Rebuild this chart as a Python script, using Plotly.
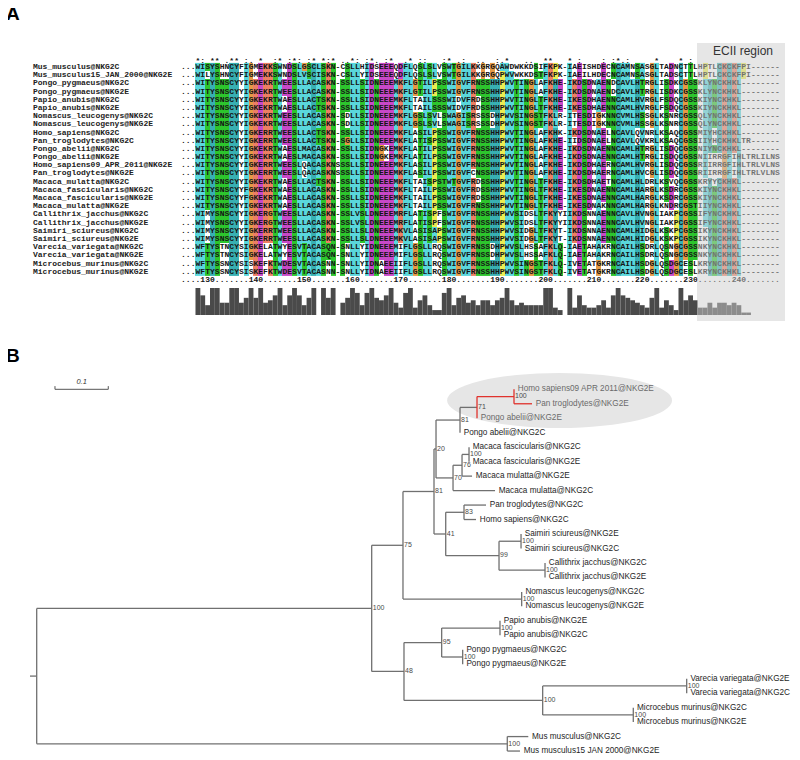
import plotly.graph_objects as go
from collections import Counter

# ---------------- Panel A data ----------------
seq_names = [
    "Mus_musculus@NKG2C", "Mus_musculus15_JAN_2000@NKG2E",
    "Pongo_pygmaeus@NKG2C", "Pongo_pygmaeus@NKG2E",
    "Papio_anubis@NKG2C", "Papio_anubis@NKG2E",
    "Nomascus_leucogenys@NKG2C", "Nomascus_leucogenys@NKG2E",
    "Homo_sapiens@NKG2C", "Pan_troglodytes@NKG2C",
    "Pongo_abelii@NKG2C", "Pongo_abelii@NKG2E",
    "Homo_sapiens09_APR_2011@NKG2E", "Pan_troglodytes@NKG2E",
    "Macaca_mulatta@NKG2C", "Macaca_fascicularis@NKG2C",
    "Macaca_fascicularis@NKG2E", "Macaca_mulatta@NKG2E",
    "Callithrix_jacchus@NKG2C", "Callithrix_jacchus@NKG2E",
    "Saimiri_sciureus@NKG2C", "Saimiri_sciureus@NKG2E",
    "Varecia_variegata@NKG2C", "Varecia_variegata@NKG2E",
    "Microcebus_murinus@NKG2C", "Microcebus_murinus@NKG2E",
]

sequences = [
    "..." "WISYSHNCYFIGMEKKSWNDSLGSCLSKN" "-" "CSLLHIDSEEEQ" "DFLQSLSLVSWTGILKKGRGQAWDWKKDSIFKPK" "-" "IAEISHDECNCAMNSASGLTADNCTTLHPTLCKCKFPI------",
    "..." "WILYSHNCYFIGMEKKSWNDSLVSCISKN" "-" "CSLLYIDSEEEQ" "DFLQSLSLVSWTGILKKGRGQPWVWKKDSTFKPK" "-" "IAEILHDECNCAMNSASGLTADSCTTLHPTLCKCKFPI------",
    "..." "WITYSNSCYYIGKEKRTWEESLLACASKN" "-" "SSLLSIDNEEEM" "KFLGTILPSSWIGVFRNSSHHPWVTINGLAFKHE" "-" "IKDSDNAENDCAVLHTRGLISDKCGSSKLYNCKHKL--------",
    "..." "WITYSNSCYYIGKEKRTWEESLLACASKN" "-" "SSLLSIDNEEEM" "KFLGTILPSSWIGVFRNSSHHPWVTINGLAFKHE" "-" "IKDSDNAENDCAVLHTRGLISDKCGSSKLYNCKHKL--------",
    "..." "WITYSNSCYYIGKEKRTWAESLLACTSKN" "-" "SSLLSIDNEEEM" "KFLTAILSSSWIDVFRDSSHHPWVTINGLTFKHE" "-" "IKESDHAENNCAMLHVRGLFSDQCGSSKIYNCKHKL--------",
    "..." "WITYSNSCYYIGKEKRTWAESLLACTSKN" "-" "SSLLSIDNEEEM" "KFLTAILSSSWIDVFRDSSHHPWVTINGLTFKHE" "-" "IKESDHAENNCAMLHVRGLFSDQCGSSKIYNCKHKL--------",
    "..." "WITYSNSCYYIGKEKRTWEESLLACASKN" "-" "SDLLSIDNEEEM" "KFLGSLSVLSWAGISRSSSDHPWVSINGSTFKLR" "-" "ITESDIGKNNCVMLHSSGLKSNRCGSSQLYNCKHKL--------",
    "..." "WITYSNSCYYIGKEKRTWEESLLACASKN" "-" "SDLLSIDNEEEM" "KFLGSLSVLSWAGISRSSSDHPWVSINGSTFKLR" "-" "ITESDIGKNNCVMLHSSGLKSNRCGSSQLYNCKHKL--------",
    "..." "WITYSNSCYYIGKERRTWEESLLACTSKN" "-" "SSLLSIDNEEEM" "KFLASILPSSWIGVFRNSSHHPWVTINGLAFKHK" "-" "IKDSDNAELNCAVLQVNRLKSAQCGSSMIYHCKHKL--------",
    "..." "WITYSNSCYYIGKERRTWEESLLACTSKN" "-" "SGLLSIDNEEEM" "KFLATISPSSWIGVFRNSSHHPWVTINGLAFKHE" "-" "IIDSDNAELNCAVLQVKRLKSAQCGSSIIYHCKHKLTR------",
    "..." "WITYSNSCYYIGKEKRTWAESLMACASKN" "-" "SSLLSIDNGKEM" "KFLATILPSSWIGVFRNSSHHPWVTINGLAFKHE" "-" "IKDSDNAENNCAMLHTRGLISDQCGSSNIYNCKHKL--------",
    "..." "WITYSNSCYYIGKEKRTWAESLMACASKN" "-" "SSLLSIDNGKEM" "KFLATILPSSWIGVFRNSSHHPWVTINGLAFKHE" "-" "IKDSDNAENNCAMLHTRGLISDQCGSSNIIRRGFIHLTRLILNS",
    "..." "WITYSNSCYYIGKERRTWEESLQACASKN" "S" "SSLLSIDNEEEM" "KFLASILPSSWIGVFRNSSHHPWVTINGLAFKHE" "-" "IKDSDHAERNCAMLHVRGLISDQCGSSRIIRRGFIHLTRLVLNS",
    "..." "WITYSNSCYYIGKERRTWEESLQACASKN" "S" "SSLLSIDNEEEM" "KFLASILPSSWIGVFCNSSHHPWVTINGLAFKHE" "-" "IKDSDHAERNCAMLHVCGLISDQCGSSRIIRRGFIHLTRLVLNS",
    "..." "WITYSNSCYYIGKEKRTWAESLLACTSKN" "-" "SSLLSIDNEEEM" "KFLTAISPSTWTGVFRDSSHHPWVTINGLTFKHE" "-" "IKDSDHAETNCAMLHLDRLKSVQCGSSKRYYCKHKL--------",
    "..." "WITYSNSCYYFGKEKRTWAESLLACASKN" "-" "SSLLSIDNEEEM" "KFLTAILPSSWIGVFRDSSHHPWVTINGLTFKHE" "-" "IKESDNAENNCAMLHARGLKSDRCGSSKIYNCKHKL--------",
    "..." "WITYSNSCYYFGKEKRTWAESLLACASKN" "-" "SSLLSIDNEEEM" "KFLTAILPSSWIGVFRDSSHHPWVTINGLTFKHE" "-" "IKESDNAENNCAMLHARGLKSDRCGSSKIYNCKHKL--------",
    "..." "WITYSNSCYYIGKEKRTWAESLLACASKN" "-" "SSLLSIDNEEEM" "KFLTAILPSSWIGVFRNSSHHPWVTINGLTFKHE" "-" "IKESDNAKNNCAMLHARGLKNDRCGSTIIYNCKHKL--------",
    "..." "WIMYSNSCYYIGKERGTWEESLLACASKN" "-" "SSLVSLDNEEEM" "RFLATISPFSWIGVFRNSSHHPWVSIDSLTFKYY" "I" "IKDSNNAENNCAVLHVNGLIAKPCGSSIFYNCKHKL--------",
    "..." "WIMYSNSCYYIGKERGTWEESLLACASKN" "-" "SSLVSLDNEEEM" "RFLATISPFSWIGVFRNSSHHPWVSIDSLTFKYY" "I" "IKDSNNAENNCAVLHVNGLIAKPCGSSIFYNCKHKL--------",
    "..." "WIMYSNSCYYIGKERRTWEESLLACASKN" "-" "SSLLSLDNEEEM" "KVLASISAPSWIGVFRNSSHHPWVSIDGLTFKYT" "-" "IKDSNNAENNCAMLHIDGLKSKPCGSSIKYNCKHKL--------",
    "..." "WIMYSNSCYYIGKERRTWEESLLACASKN" "-" "SSLLSLDNEEEM" "KVLASISAPSWIGVFRNSSHHPWVSIDGLTFKYT" "-" "IKDSNNAENNCAMLHIDGLKSKPCGSSIKYNCKHKL--------",
    "..." "WFTYSTNCYSIGKELATWYESVTACASQN" "-" "SNLLYIDNEEEM" "IFLGSLLRQSWIGVFRNSSDHPWVSLHSSAFKLQ" "-" "IAETAHAKRNCAILHSDRLQSNGCGSSNKYNCKHKL--------",
    "..." "WFTYSTNCYSIGKELATWYESVTACASQN" "-" "SNLLYIDNEEEM" "IFLGSLLRQSWIGVFRNSSDHPWVSLHSSAFKLQ" "-" "IAETAHAKRNCAILHSDRLQSNGCGSSNKYNCKHKL--------",
    "..." "WFTYSSNCYSISKEFKTWDESVTACASNN" "-" "SNLLYIDNAEEI" "IFLGSLLRQSWIGVFRNSSHHPWVSINGSTFKLQ" "-" "IVETATGKRNCAILHSDGLQSDGCESLKRYNCKHKL--------",
    "..." "WFTYSSNCYSISKEFKTWDESVTACASNN" "-" "SNLLYIDNAEEI" "IFLGSLLRQSWIGVFRNSSHHPWVSINGSTFKLQ" "-" "IVETATGKRNCAILHSDGLQSDGCESLKRYNCKHKL--------",
]

ruler = "....130.......140.......150.......160.......170.......180.......190.......200.......210.......220.......230.......240......."

conservation_scores = [
    0, 0, 0,
    11, 8, 4, 11, 11, 5, 5, 11, 11, 5, 7, 11, 7, 11, 5, 6, 8, 11, 4, 8, 11, 8, 4, 7, 11, 0, 11, 7, 11,
    0,
    5, 7, 11, 9, 4, 9, 11, 7, 6, 8, 11, 5,
    3, 9, 11, 3, 6, 8, 4, 2, 2, 9, 11, 4, 7, 8, 5, 6, 4, 6, 6, 4, 6, 7, 11, 6, 4, 5, 4, 4, 4, 4, 11, 11, 3, 2,
    0,
    11, 3, 8, 4, 3, 3, 4, 6, 3, 8, 11, 8, 7, 6, 5, 4, 3, 7, 11, 3, 6, 4, 2, 11, 6, 8, 6, 3, 3, 5,
    3, 5, 5, 4, 5, 4, 1, 1, 0, 0, 0, 0, 0, 0,
]

ecii_label = "ECII region"

# ---------------- Panel B data ----------------
tree_newick = (
    "((((((((Homo_sapiens09_APR_2011@NKG2E:0,Pan_troglodytes@NKG2E:0.0338)100:0.0694,"
    "Pongo_abelii@NKG2E:0)71:0.0319,Pongo_abelii@NKG2C:0)81:0.0450,"
    "(((Macaca_fascicularis@NKG2C:0,Macaca_fascicularis@NKG2E:0)100:0.0131,"
    "Macaca_mulatta@NKG2E:0.0188)76:0.0169,Macaca_mulatta@NKG2C:0.0788)70:0.0319)20:0.0038,"
    "((Pan_troglodytes@NKG2C:0.0413,Homo_sapiens@NKG2C:0.0225)83:0.0343,"
    "((Saimiri_sciureus@NKG2E:0,Saimiri_sciureus@NKG2C:0)100:0.0413,"
    "(Callithrix_jacchus@NKG2C:0,Callithrix_jacchus@NKG2E:0)100:0.0863)99:0.1000)41:0.0220)81:0.0582,"
    "(Nomascus_leucogenys@NKG2C:0,Nomascus_leucogenys@NKG2E:0)100:0.2227)75:0.0587,"
    "(((Papio_anubis@NKG2E:0,Papio_anubis@NKG2C:0)100:0.1094,"
    "(Pongo_pygmaeus@NKG2C:0,Pongo_pygmaeus@NKG2E:0)100:0.0394)95:0.0707,"
    "((Varecia_variegata@NKG2E:0,Varecia_variegata@NKG2C:0)100:0.2702,"
    "(Microcebus_murinus@NKG2C:0,Microcebus_murinus@NKG2E:0)100:0.1700)100:0.2602)48:0.0606)100:0.6285,"
    "(Mus_musculus@NKG2C:0.0394,Mus_musculus15_JAN_2000@NKG2E:0.0238)100:0.8829);"
)
highlight_leaves = ["Homo_sapiens09_APR_2011@NKG2E", "Pan_troglodytes@NKG2E", "Pongo_abelii@NKG2E"]
scale_bar_length = 0.1

# ---------------- page geometry (browser body has an 8px margin at left/top) ----------------
OFF = 8
W, H = 800 - OFF, 760 - OFF


def px(p):  # page x pixel -> paper fraction
    return (p - OFF) / W


def py(p):  # page y pixel -> paper fraction
    return 1 - (p - OFF) / H


# ---------------- helpers ----------------
NCOL = 124
sequences = [s.ljust(NCOL, "-")[:NCOL] for s in sequences]
ruler = ruler.ljust(NCOL, ".")[:NCOL]
conservation_scores = (conservation_scores + [0] * NCOL)[:NCOL]
nrow = len(sequences)

COLORS = {1: "#5ad7dc", 2: "#ec7f63", 3: "#c848c8", 4: "#2dc52d",
          5: "#e69a45", 6: "#ecec52", 7: "#38b0b3"}


def colour_class(ch, f):
    hyd = f("WLVIMAFCHP")
    if ch in "AILMFWV":
        return 1 if hyd > 0.6 else 0
    if ch == "C":
        return 7 if (hyd > 0.6 or f("C") > 0.85) else 0
    if ch in "KR":
        return 2 if (f("KR") > 0.6 or f("KRQ") > 0.8) else 0
    if ch == "E":
        return 3 if (f("KR") > 0.6 or f("QE") > 0.5 or f("ED") > 0.5) else 0
    if ch == "D":
        return 3 if (f("KR") > 0.6 or f("KRQ") > 0.85 or f("ED") > 0.5) else 0
    if ch == "N":
        return 4 if (f("N") > 0.5 or f("NY") > 0.85) else 0
    if ch == "Q":
        return 4 if (f("KR") > 0.6 or f("QE") > 0.5 or f("QEKR") > 0.85) else 0
    if ch in "ST":
        return 4 if (hyd > 0.6 or f("TS") > 0.5) else 0
    if ch == "G":
        return 5
    if ch == "P":
        return 6
    if ch in "HY":
        return 7 if (hyd > 0.6 or f("WYACPQFHILMV") > 0.85) else 0
    return 0


STRONG = ["STA", "NEQK", "NHQK", "NDEQ", "QHRK", "MILV", "MILF", "HY", "FYW"]
WEAK = ["CSA", "ATV", "SAG", "STNK", "STPA", "SGND", "SNDEQK", "NDEQHK", "NEQHRK", "FVLIM", "HFY"]

z = [[None] * NCOL for _ in range(nrow)]
cons_symbols = []
for k in range(NCOL):
    col = [s[k] for s in sequences]
    cnt = Counter(col)
    f = lambda grp, cnt=cnt: sum(cnt[c] for c in grp) / nrow
    for i, ch in enumerate(col):
        c = colour_class(ch, f)
        z[i][k] = c if c else None
    present = set(col)
    if "-" in present or "." in present:
        cons_symbols.append(" ")
    elif len(present) == 1:
        cons_symbols.append("*")
    elif any(present <= set(g) for g in STRONG):
        cons_symbols.append(":")
    elif any(present <= set(g) for g in WEAK):
        cons_symbols.append(".")
    else:
        cons_symbols.append(" ")

tx, ty, tt = [], [], []
for i, s in enumerate(sequences):
    for k, ch in enumerate(s):
        tx.append(k); ty.append(i); tt.append(ch)
for k, ch in enumerate(ruler):
    tx.append(k); ty.append(nrow); tt.append(ch)
for k, ch in enumerate(cons_symbols):
    if ch != " ":
        tx.append(k); ty.append(-0.75); tt.append(ch)

classes = sorted(COLORS)
cscale = []
for j, c in enumerate(classes):
    cscale.append([j / len(classes), COLORS[c]])
    cscale.append([(j + 1) / len(classes), COLORS[c]])

MONO = "Liberation Mono, DejaVu Sans Mono, monospace"
SANS = "Liberation Sans, Arial, Helvetica, sans-serif"

fig = go.Figure()
fig.add_trace(go.Heatmap(z=z, x=list(range(NCOL)), y=list(range(nrow)), colorscale=cscale,
                         zmin=0.5, zmax=len(classes) + 0.5, showscale=False, hoverinfo="skip",
                         xaxis="x", yaxis="y"))
fig.add_trace(go.Scatter(x=tx, y=ty, text=tt, mode="text", hoverinfo="skip", cliponaxis=False,
                         textfont=dict(family=MONO, size=8, color="#151515", weight="bold"),
                         xaxis="x", yaxis="y"))
fig.add_trace(go.Scatter(x=[0] * nrow, y=list(range(nrow)), text=seq_names, mode="text",
                         textposition="middle right", hoverinfo="skip", cliponaxis=False,
                         textfont=dict(family=MONO, size=8, color="#222222", weight="bold"),
                         xaxis="x2", yaxis="y"))
fig.add_trace(go.Bar(x=list(range(NCOL)), y=conservation_scores, width=1.0,
                     marker=dict(color="#4a4a4a", line=dict(width=0)), hoverinfo="skip",
                     xaxis="x3", yaxis="y3"))

# ---------------- tree ----------------
def parse_newick(s):
    s = s.strip()
    pos = [0]

    def node():
        n = {"children": [], "name": "", "length": 0.0}
        if s[pos[0]] == "(":
            pos[0] += 1
            while True:
                n["children"].append(node())
                if s[pos[0]] == ",":
                    pos[0] += 1
                    continue
                if s[pos[0]] == ")":
                    pos[0] += 1
                    break
        st = pos[0]
        while pos[0] < len(s) and s[pos[0]] not in ":,();":
            pos[0] += 1
        n["name"] = s[st:pos[0]]
        if pos[0] < len(s) and s[pos[0]] == ":":
            pos[0] += 1
            st = pos[0]
            while pos[0] < len(s) and s[pos[0]] not in ",();":
                pos[0] += 1
            n["length"] = float(s[st:pos[0]])
        return n
    return node()


root = parse_newick(tree_newick)
counter = [0]
hl = set(highlight_leaves)


def lay(n, x0, parent):
    n["x"] = x0 + n["length"]
    n["parent"] = parent
    if not n["children"]:
        n["y"] = counter[0]
        counter[0] += 1
        n["leaves"] = {n["name"]}
    else:
        n["leaves"] = set()
        for c in n["children"]:
            lay(c, n["x"], n)
            n["leaves"] |= c["leaves"]
        n["y"] = (n["children"][0]["y"] + n["children"][-1]["y"]) / 2
    n["hl"] = n["leaves"] <= hl


lay(root, 0.0, None)

nodes = []


def walk(n):
    nodes.append(n)
    for c in n["children"]:
        walk(c)


walk(root)

grey_x, grey_y, red_x, red_y = [], [], [], []


def seg(hlflag, xs, ys):
    if hlflag:
        red_x.extend(xs + [None]); red_y.extend(ys + [None])
    else:
        grey_x.extend(xs + [None]); grey_y.extend(ys + [None])


for n in nodes:
    p = n["parent"]
    if p is not None:
        seg(n["hl"] and p["hl"], [p["x"], n["x"]], [n["y"], n["y"]])
    else:
        seg(False, [n["x"] - 0.0126, n["x"]], [n["y"], n["y"]])
    if n["children"]:
        seg(n["hl"], [n["x"], n["x"]], [n["children"][0]["y"], n["children"][-1]["y"]])

fig.add_trace(go.Scatter(x=grey_x, y=grey_y, mode="lines", line=dict(color="#707070", width=1.3),
                         hoverinfo="skip", xaxis="x4", yaxis="y4"))
fig.add_trace(go.Scatter(x=red_x, y=red_y, mode="lines", line=dict(color="#e0322d", width=1.3),
                         hoverinfo="skip", xaxis="x4", yaxis="y4"))

leaves = [n for n in nodes if not n["children"]]
for group, col in [(False, "#1e1e1e"), (True, "#6a6a6a")]:
    sel = [n for n in leaves if (n["name"] in hl) == group]
    fig.add_trace(go.Scatter(x=[n["x"] + 0.0070 for n in sel], y=[n["y"] for n in sel],
                             text=[n["name"].replace("_", " ") for n in sel], mode="text",
                             textposition="middle right", hoverinfo="skip", cliponaxis=False,
                             textfont=dict(family=SANS, size=8.2, color=col),
                             xaxis="x4", yaxis="y4"))
internal = [n for n in nodes if n["children"] and n["name"]]
fig.add_trace(go.Scatter(x=[n["x"] + 0.002 for n in internal], y=[n["y"] for n in internal],
                         text=[n["name"] for n in internal], mode="text", textposition="middle right",
                         hoverinfo="skip", cliponaxis=False,
                         textfont=dict(family=SANS, size=7, color="#4a4a4a"),
                         xaxis="x4", yaxis="y4"))

# scale bar
sb0 = 0.0343
fig.add_trace(go.Scatter(x=[sb0, sb0, sb0 + scale_bar_length, sb0 + scale_bar_length],
                         y=[-0.22, 0, 0, -0.22], mode="lines",
                         line=dict(color="#555555", width=1), hoverinfo="skip",
                         xaxis="x4", yaxis="y4"))
fig.add_trace(go.Scatter(x=[sb0 + scale_bar_length / 2], y=[-0.5], text=[str(scale_bar_length)],
                         mode="text", hoverinfo="skip", cliponaxis=False,
                         textfont=dict(family=SANS, size=7.5, color="#333333", style="italic"),
                         xaxis="x4", yaxis="y4"))

# ---------------- layout ----------------
col_w = 4.83
x_left = 181
x_dom = [px(x_left), px(x_left + col_w * NCOL)]
row_h = 8.19
row0 = 67
y_top = row0 - row_h * 1.5
y_bot = row0 + row_h * (nrow + 0.5)

# tree axis: distance d -> page x = 36.7 + 533*d ; leaf i -> page y = 389.3 + 14.47*i
tx0, tsc = 36.7, 533.0
ty0, tsy = 389.3, 14.47
tree_xr = [(OFF - tx0) / tsc, (OFF + W - tx0) / tsc]
tree_ytop, tree_ybot = 360, OFF + H
tree_yr = [(tree_ybot - ty0) / tsy, (tree_ytop - ty0) / tsy]

shapes = [
    dict(type="circle", xref="x4", yref="y4", x0=0.770, x1=1.192, y0=-1.13, y1=2.67,
         fillcolor="#e6e6e6", line=dict(width=0), layer="below"),
    dict(type="rect", xref="paper", yref="paper", x0=px(697), x1=px(785),
         y0=py(321), y1=py(43), fillcolor="rgba(205,205,205,0.5)",
         line=dict(width=0), layer="above"),
]

annotations = [
    dict(text="<b>A</b>", x=px(4), y=py(14), xref="paper", yref="paper", xanchor="left",
         yanchor="middle", showarrow=False, font=dict(family=SANS, size=19, color="#000")),
    dict(text="<b>B</b>", x=px(4), y=py(355), xref="paper", yref="paper", xanchor="left",
         yanchor="middle", showarrow=False, font=dict(family=SANS, size=19, color="#000")),
    dict(text=ecii_label, x=px(743), y=py(51), xref="paper", yref="paper", xanchor="center",
         yanchor="middle", showarrow=False, font=dict(family=SANS, size=12, color="#333333")),
]

hidden = dict(visible=False, showgrid=False, zeroline=False, fixedrange=True)
fig.update_layout(
    width=W, height=H, margin=dict(l=0, r=0, t=0, b=0),
    paper_bgcolor="white", plot_bgcolor="rgba(0,0,0,0)", showlegend=False,
    shapes=shapes, annotations=annotations,
    xaxis=dict(domain=x_dom, range=[-0.5, NCOL - 0.5], anchor="y", **hidden),
    yaxis=dict(domain=[py(y_bot), py(y_top)], range=[nrow + 0.5, -1.5], anchor="x", **hidden),
    xaxis2=dict(domain=[px(33), px(180)], range=[0, 1], anchor="y", **hidden),
    xaxis3=dict(domain=x_dom, range=[-0.5, NCOL - 0.5], anchor="y3", **hidden),
    yaxis3=dict(domain=[py(315), py(288)], range=[0, 11], anchor="x3", **hidden),
    xaxis4=dict(domain=[0, 1], range=tree_xr, anchor="y4", **hidden),
    yaxis4=dict(domain=[0, py(tree_ytop)], range=tree_yr, anchor="x4", **hidden),
)

fig.write_html("out.html")
